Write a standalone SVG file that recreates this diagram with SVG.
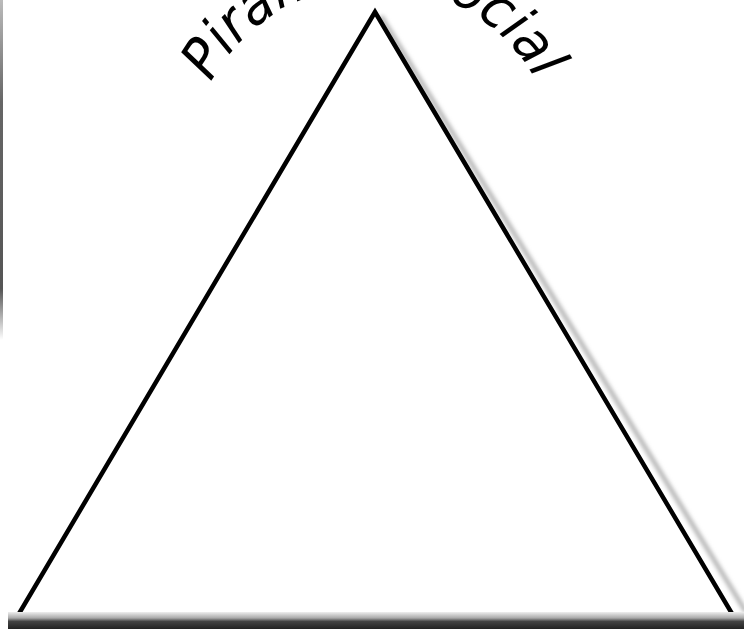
<svg xmlns="http://www.w3.org/2000/svg" width="744" height="629" viewBox="0 0 744 629">
<defs>
<style>
.tri{fill:#fff;stroke:#000;stroke-width:4.5;stroke-linejoin:miter}
.lbl{font-family:"DejaVu Sans","Liberation Sans",sans-serif;font-size:56px;font-style:italic;fill:#000}
</style>
<linearGradient id="bar" x1="0" y1="0" x2="0" y2="1">
<stop offset="0" stop-color="#eee"/>
<stop offset="0.35" stop-color="#aaa"/>
<stop offset="0.55" stop-color="#444"/>
<stop offset="1" stop-color="#222"/>
</linearGradient>
<linearGradient id="lft" x1="0" y1="0" x2="0" y2="1">
<stop offset="0" stop-color="#bbb"/>
<stop offset="0.3" stop-color="#666"/>
<stop offset="0.85" stop-color="#555"/>
<stop offset="1" stop-color="#fff"/>
</linearGradient>
<filter id="sh" x="-10%" y="-10%" width="120%" height="120%">
<feGaussianBlur stdDeviation="2"/>
</filter>
<path id="arc" d="M 205 94.8 A 185 185 0 0 1 540.3 88.9" fill="none"/>
</defs>
<rect width="744" height="629" fill="#fff"/>
<rect x="0" y="0" width="3" height="340" fill="url(#lft)"/>
<g id="pyramid">
<polyline points="381,16 746,612" fill="none" stroke="#aaa" stroke-width="4" filter="url(#sh)"/>
<polygon class="tri" points="375,12 14,622 737,622"/>
<rect x="8" y="612" width="736" height="17" fill="url(#bar)"/>
</g>
<g id="title">
<text class="lbl"><textPath href="#arc" startOffset="14" textLength="396" lengthAdjust="spacingAndGlyphs">Piramide social</textPath></text>
</g>
</svg>
